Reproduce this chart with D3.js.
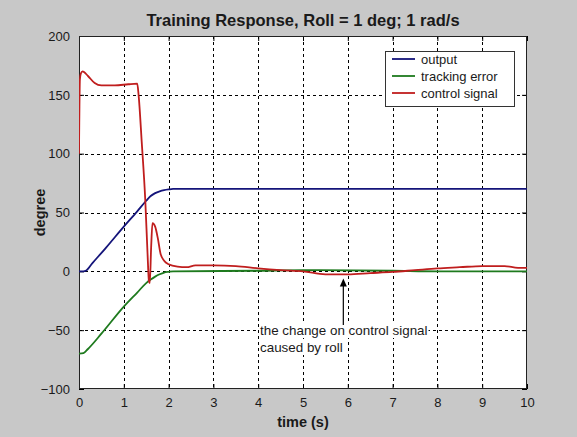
<!DOCTYPE html>
<html>
<head>
<meta charset="utf-8">
<script src="https://cdn.jsdelivr.net/npm/d3@7"></script>
<style>
  html, body { margin: 0; padding: 0; background: #c8c8c8; }
  svg { display: block; }
  text { font-family: "Liberation Sans", Arial, sans-serif; fill: #1a1a1a; }
</style>
</head>
<body>
<svg id="chart" width="577" height="437"></svg>
<script>
// Time samples (s) and values (deg) for each trace
const outputTime  = [0, 0.1, 0.15, 0.3, 0.6, 1.0, 1.3, 1.5, 1.6, 1.7, 1.8, 1.9, 2.0, 2.1, 2.4, 10];
const outputValue = [0, 0, 0.5, 7, 20, 38, 51, 60, 64, 66.5, 68, 69, 69.6, 70, 70, 70];

const errorTime  = [0, 0.1, 0.2, 0.5, 1.0, 1.3, 1.5, 1.6, 1.7, 1.8, 1.9, 2.0, 2.1, 4.0, 5.0, 7.0, 8.0, 10];
const errorValue = [-70, -69.5, -66, -53, -30, -18, -10, -7, -4.5, -2.5, -1, -0.4, 0, 0.5, 1, 0.5, 0, 0];

const controlTime  = [0, 0.02, 0.04, 0.08, 0.2, 0.35, 0.5, 0.8, 1.1, 1.3, 1.33, 1.4, 1.48, 1.53, 1.56, 1.58,
                      1.61, 1.64, 1.7, 1.76, 1.82, 1.9, 2.0, 2.2, 2.4, 2.6, 3.0, 3.5, 4.0, 4.5, 5.0, 5.5,
                      6.0, 6.5, 7.0, 7.5, 8.0, 8.5, 9.0, 9.5, 9.8, 10];
const controlValue = [100, 163, 168, 170, 166, 160, 158, 158, 159, 159.5, 150, 110, 60, 15, -8, -10,
                      20, 41, 38, 28, 15, 9, 6, 4, 3.5, 5, 5, 4.5, 2.5, 1, 0, -2.5,
                      -2.5, -1.5, -0.5, 1, 2.5, 3.5, 4.5, 4.5, 3, 3];

const xTicks = [0, 1, 2, 3, 4, 5, 6, 7, 8, 9, 10];
const yTicks = [-100, -50, 0, 50, 100, 150, 200];

const seriesNames  = ["output", "tracking error", "control signal"];
const seriesColors = ["#14147a", "#1e7a1e", "#c01e1e"];

const titleText = "Training Response, Roll = 1 deg; 1 rad/s";
const xLabel = "time (s)";
const yLabel = "degree";
const noteLines = ["the change on control signal", "caused by roll"];
const noteAnchor = { t: 5.9, v: -6 };

const svg = d3.select("#chart");
const plot = { left: 79, right: 527, top: 36, bottom: 389 };

const x = d3.scaleLinear().domain([0, 10]).range([plot.left, plot.right]);
const y = d3.scaleLinear().domain([-100, 200]).range([plot.bottom, plot.top]);

// plot area
svg.append("rect")
  .attr("x", plot.left).attr("y", plot.top)
  .attr("width", plot.right - plot.left).attr("height", plot.bottom - plot.top)
  .attr("fill", "#ffffff");

// dotted grid
const grid = svg.append("g").attr("stroke", "#000").attr("stroke-width", 1)
  .attr("stroke-dasharray", "3,3").attr("shape-rendering", "crispEdges");
grid.selectAll("line.gx").data(xTicks.slice(1, -1)).join("line")
  .attr("x1", d => Math.round(x(d)) + 0.5).attr("x2", d => Math.round(x(d)) + 0.5)
  .attr("y1", plot.top).attr("y2", plot.bottom);
grid.selectAll("line.gy").data(yTicks.slice(1, -1)).join("line")
  .attr("y1", d => Math.round(y(d)) + 0.5).attr("y2", d => Math.round(y(d)) + 0.5)
  .attr("x1", plot.left).attr("x2", plot.right);

// axes with inward ticks on all four sides
const tickLen = 5;
const axB = d3.axisBottom(x).tickValues(xTicks).tickSize(-tickLen).tickPadding(tickLen + 4).tickFormat(d3.format("d"));
const axT = d3.axisTop(x).tickValues(xTicks).tickSize(-tickLen).tickFormat("");
const axL = d3.axisLeft(y).tickValues(yTicks).tickSize(-tickLen).tickPadding(tickLen + 4).tickFormat(d3.format("d"));
const axR = d3.axisRight(y).tickValues(yTicks).tickSize(-tickLen).tickFormat("");

function styleAxis(g) {
  g.select(".domain").remove();
  g.selectAll(".tick line").attr("stroke", "#000");
  g.selectAll(".tick text").attr("font-size", 13).attr("fill", "#1a1a1a")
    .attr("font-family", "'Liberation Sans', Arial, sans-serif");
}
svg.append("g").attr("transform", `translate(0,${plot.bottom})`).call(axB).call(styleAxis);
svg.append("g").attr("transform", `translate(0,${plot.top})`).call(axT).call(styleAxis);
svg.append("g").attr("transform", `translate(${plot.left},0)`).call(axL).call(styleAxis);
svg.append("g").attr("transform", `translate(${plot.right},0)`).call(axR).call(styleAxis);

// box
svg.append("rect")
  .attr("x", plot.left + 0.5).attr("y", plot.top + 0.5)
  .attr("width", plot.right - plot.left - 1).attr("height", plot.bottom - plot.top - 1)
  .attr("fill", "none").attr("stroke", "#222").attr("stroke-width", 1);

// traces
const traces = [
  outputTime.map((t, i) => [t, outputValue[i]]),
  errorTime.map((t, i) => [t, errorValue[i]]),
  controlTime.map((t, i) => [t, controlValue[i]])
];
const line = d3.line().x(d => x(d[0])).y(d => y(d[1])).curve(d3.curveMonotoneX);
svg.append("clipPath").attr("id", "plotClip").append("rect")
  .attr("x", plot.left).attr("y", plot.top)
  .attr("width", plot.right - plot.left).attr("height", plot.bottom - plot.top);
svg.append("g").attr("clip-path", "url(#plotClip)")
  .selectAll("path").data(traces).join("path")
  .attr("d", line)
  .attr("fill", "none")
  .attr("stroke", (d, i) => seriesColors[i])
  .attr("stroke-width", 1.8)
  .attr("stroke-linejoin", "round");

// annotation
const note = svg.append("g");
const noteX = 260;
const noteBase = [335, 352];
noteLines.forEach((s, i) => {
  const t = note.append("text").attr("x", noteX).attr("y", noteBase[i])
    .attr("font-size", 13.4).text(s);
  const bb = t.node().getBBox();
  note.insert("rect", "text").attr("x", bb.x - 1).attr("y", bb.y).attr("width", bb.width + 2)
    .attr("height", bb.height).attr("fill", "#fff");
});
const ax = x(noteAnchor.t), ay = y(noteAnchor.v);
note.append("line").attr("x1", ax).attr("x2", ax).attr("y1", 325).attr("y2", ay + 7)
  .attr("stroke", "#000").attr("stroke-width", 1.2);
note.append("path")
  .attr("d", `M${ax},${ay} L${ax - 3.5},${ay + 8} L${ax + 3.5},${ay + 8} Z`)
  .attr("fill", "#000");

// legend
const lg = svg.append("g");
lg.append("rect").attr("x", 385.5).attr("y", 51.5).attr("width", 129).attr("height", 55)
  .attr("fill", "#fff").attr("stroke", "#333").attr("stroke-width", 1);
seriesNames.forEach((name, i) => {
  const yy = 59 + i * 17;
  lg.append("line").attr("x1", 392).attr("x2", 415).attr("y1", yy).attr("y2", yy)
    .attr("stroke", seriesColors[i]).attr("stroke-width", 1.8);
  lg.append("text").attr("x", 421).attr("y", yy + 4.5).attr("font-size", 13).text(name);
});

// titles
svg.append("text").attr("x", (plot.left + plot.right) / 2).attr("y", 26)
  .attr("text-anchor", "middle").attr("font-size", 16.5).attr("font-weight", "bold").text(titleText);
svg.append("text").attr("x", (plot.left + plot.right) / 2).attr("y", 427)
  .attr("text-anchor", "middle").attr("font-size", 14.5).attr("font-weight", "bold").text(xLabel);
svg.append("text").attr("transform", `translate(45,${(plot.top + plot.bottom) / 2}) rotate(-90)`)
  .attr("text-anchor", "middle").attr("font-size", 14.5).attr("font-weight", "bold").text(yLabel);
</script>
</body>
</html>
